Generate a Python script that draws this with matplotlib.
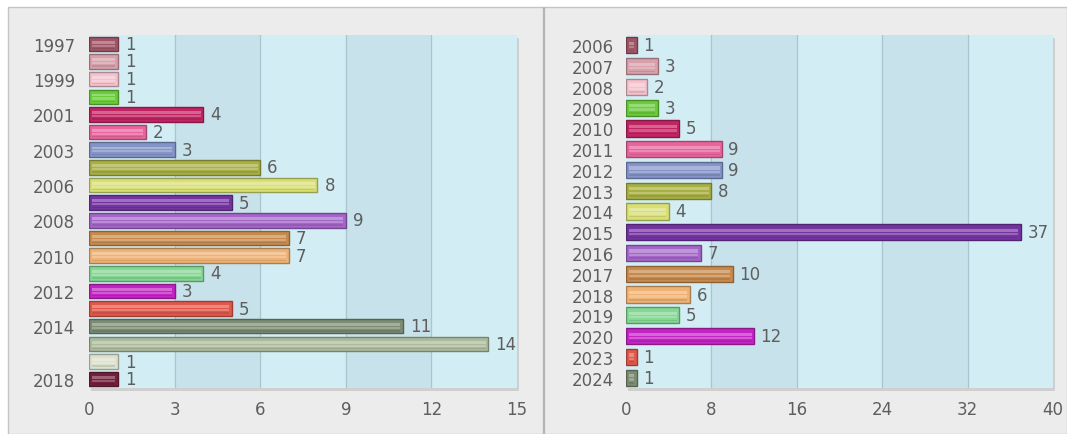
import matplotlib.pyplot as plt
from matplotlib.patches import Rectangle

# Left chart data
left_years = ['1997', '1998', '1999', '2000', '2001', '2002', '2003', '2005', '2006', '2007',
              '2008', '2009', '2010', '2011', '2012', '2013', '2014', '2015', '2016', '2018']
left_values = [1, 1, 1, 1, 4, 2, 3, 6, 8, 5, 9, 7, 7, 4, 3, 5, 11, 14, 1, 1]
left_shown = ['1997', '1999', '2001', '2003', '2006', '2008', '2010', '2012', '2014', '2018']
left_xticks = [0, 3, 6, 9, 12, 15]

# Right chart data
right_years = ['2006', '2007', '2008', '2009', '2010', '2011', '2012', '2013', '2014',
               '2015', '2016', '2017', '2018', '2019', '2020', '2023', '2024']
right_values = [1, 3, 2, 3, 5, 9, 9, 8, 4, 37, 7, 10, 6, 5, 12, 1, 1]
right_xticks = [0, 8, 16, 24, 32, 40]

# bar colours, used in order
palette = ['#a05566', '#d7a0aa', '#f4c2cc', '#6acc3a', '#c02462', '#e8649c', '#8494c8',
           '#a8b044', '#d8e074', '#7434a0', '#a466c8', '#c88a4c', '#f0b274', '#84d894',
           '#c424c4', '#e0584a', '#7c8c72', '#acba9c', '#dae2cc', '#72203c']

LIGHT = '#d2eef4'
DARK = '#c7e2ea'
TXT = '#5e5e5e'
FS = 12


def darker(c, f=0.7):
    r, g, b = int(c[1:3], 16), int(c[3:5], 16), int(c[5:7], 16)
    return (r / 255 * f, g / 255 * f, b / 255 * f)


def draw_chart(ax, years, values, shown, xticks, label_gap, height, ypad):
    n = len(years)
    ypos = list(range(n))
    step = xticks[1]
    for i in range(len(xticks) - 1):
        ax.axvspan(xticks[i], xticks[i + 1], color=LIGHT if i % 2 == 0 else DARK, zorder=0)
    for x in xticks[1:-1]:
        ax.axvline(x, color='#a9c6ce', lw=0.9, zorder=1)
    cols = [palette[i % len(palette)] for i in range(n)]
    ax.barh(ypos, values, height=height, color=cols,
            edgecolor=[darker(c) for c in cols], linewidth=1.0, zorder=3)
    # glossy stripes
    ax.barh([y - height * 0.12 for y in ypos], [v - 0.06 * step for v in values],
            left=0.03 * step, height=height * 0.2, color='white', alpha=0.3,
            linewidth=0, zorder=4)
    ax.barh([y + height * 0.12 for y in ypos], [v - 0.06 * step for v in values],
            left=0.03 * step, height=height * 0.14, color='white', alpha=0.25,
            linewidth=0, zorder=4)
    ax.barh([y + height * 0.32 for y in ypos], [v - 0.06 * step for v in values],
            left=0.03 * step, height=height * 0.1, color='black', alpha=0.1,
            linewidth=0, zorder=4)
    for y, v in zip(ypos, values):
        ax.text(v + label_gap, y, str(v), va='center', ha='left', fontsize=FS,
                color=TXT, zorder=5)
    ax.set_xlim(xticks[0], xticks[-1])
    ax.set_ylim(n - 0.5, -0.5)
    ax.set_xticks(xticks)
    ax.set_xticklabels([str(t) for t in xticks], fontsize=FS, color=TXT)
    ticks = [i for i, yr in enumerate(years) if yr in shown]
    ax.set_yticks(ticks)
    ax.set_yticklabels([years[i] for i in ticks], fontsize=FS, color=TXT)
    ax.tick_params(axis='x', length=0, pad=9)
    ax.tick_params(axis='y', length=0, pad=ypad)
    for s in ax.spines.values():
        s.set_visible(False)


fig = plt.figure(figsize=(10.67, 4.35), dpi=100)
fig.patch.set_facecolor('white')
W, H = 1067, 435
fig.patches.append(Rectangle((8 / W, 0), (543 - 8) / W, (H - 8) / H, transform=fig.transFigure,
                             facecolor='#ececec', edgecolor='#c4c4c4', lw=1.0, zorder=-3))
fig.patches.append(Rectangle((544 / W, 0), (W - 544) / W, (H - 8) / H, transform=fig.transFigure,
                             facecolor='#ececec', edgecolor='#c4c4c4', lw=1.0, zorder=-3))
fig.patches.append(Rectangle((543 / W, 0), 2 / W, (H - 8) / H, transform=fig.transFigure,
                             facecolor='#b4b4b4', edgecolor='none', zorder=-2))

bottom = 1 - 389 / H
height = (389 - 36) / H
ax1 = fig.add_axes([89 / W, bottom, (517 - 89) / W, height])
ax2 = fig.add_axes([626 / W, bottom, (1053 - 626) / W, height])

# soft shadow behind plot areas
for ax in (ax1, ax2):
    ax.set_zorder(1)
    p = ax.get_position()
    fig.patches.append(Rectangle((p.x0 + 2 / W, p.y0 - 3 / H), p.width, p.height,
                                 transform=fig.transFigure, facecolor='#cfcfcf',
                                 edgecolor='none', zorder=-1))

draw_chart(ax1, left_years, left_values, left_shown, left_xticks, 0.25, 0.82, 10)
draw_chart(ax2, right_years, right_values, right_years, right_xticks, 0.6, 0.78, 8.5)

fig.savefig('out.png', dpi=100, facecolor=fig.get_facecolor())
